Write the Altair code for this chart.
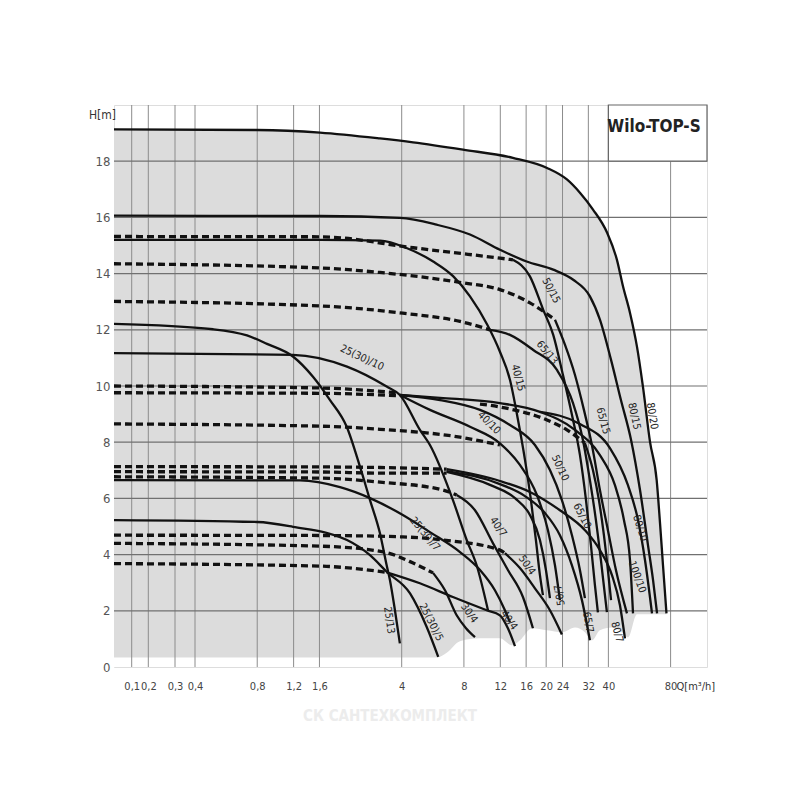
import altair as alt
import pandas as pd

FONT = "DejaVu Sans Condensed, Liberation Sans Narrow, sans-serif"

# ---------------- axes ----------------
X_TICKS = [0.1, 0.2, 0.3, 0.4, 0.8, 1.2, 1.6, 4, 8, 12, 16, 20, 24, 32, 40, 80]
Y_TICKS = [0, 2, 4, 6, 8, 10, 12, 14, 16, 18]
H_GRID = [2, 4, 6, 8, 10, 12, 14, 16, 18]
# piecewise log axis (the printed axis is compressed below 0.4 m3/h)
X_BREAKS = [0.05, 0.1, 0.2, 0.3, 0.4, 120]
X_RANGE = [0, 17.7, 34.3, 61, 81, 593]

# ---------------- solid curves (Q m3/h, H m) ----------------
Q_80_20 = [0.05, 0.8, 1.61, 3.14, 4.54, 7.92, 13.8, 20.2, 25.2, 29.2, 33.7, 39.4, 44.0, 47.1, 50.9, 55.0, 58.8, 63.6, 68.5, 71.1, 73.5, 76.4]
H_80_20 = [19.13, 19.11, 19.02, 18.81, 18.67, 18.41, 18.12, 17.76, 17.35, 16.87, 16.28, 15.46, 14.49, 13.54, 12.60, 11.40, 9.97, 8.01, 6.65, 5.12, 3.62, 1.91]

Q_80_15 = [0.05, 1.61, 3.92, 5.90, 8.56, 11.95, 16.09, 21.64, 27.03, 32.56, 36.40, 41.2, 46.0, 51.5, 56.9, 62.2, 65.8, 68.8]
H_80_15 = [16.06, 16.05, 15.98, 15.74, 15.39, 14.85, 14.43, 14.14, 13.78, 13.19, 12.36, 10.93, 9.50, 8.08, 6.30, 4.33, 3.09, 1.91]

Q_50_15 = [13.81, 16.69, 19.36, 21.64, 24.10, 26.65, 29.13, 31.14, 32.93, 34.43, 35.59]
H_50_15 = [14.49, 13.90, 12.71, 11.82, 10.40, 8.98, 7.55, 5.97, 4.34, 2.91, 1.94]

Q_40_15 = [0.05, 1.61, 3.14, 4.22, 5.68, 7.11, 8.56, 10.38, 11.95, 13.36, 14.61, 15.79, 16.88, 17.84, 18.66, 19.29]
H_40_15 = [15.20, 15.20, 15.17, 14.91, 14.43, 13.90, 13.19, 12.18, 11.22, 10.22, 8.80, 7.38, 5.94, 4.52, 3.27, 2.56]

Q_65_15 = [22.06, 24.65, 27.55, 30.46, 33.29, 36.40, 39.79, 43.51, 49.19]
H_65_15 = [12.36, 11.47, 10.40, 9.15, 7.90, 6.30, 4.87, 3.45, 1.91]

Q_65_13 = [10.69, 13.36, 17.26, 22.55, 26.95, 30.12, 32.56, 34.81, 36.81, 38.49, 39.35]
H_65_13 = [12.0, 11.82, 11.29, 10.57, 9.40, 8.08, 6.65, 5.23, 3.80, 2.56, 1.95]

Q_25_13 = [0.05, 0.489, 0.714, 0.892, 1.191, 1.489, 1.800, 2.168, 2.513, 2.81, 3.14, 3.383, 3.51, 3.71, 3.92]
H_25_13 = [12.21, 12.02, 11.80, 11.50, 11.05, 10.33, 9.50, 8.55, 7.13, 5.94, 4.76, 3.62, 3.09, 2.02, 0.84]

Q_25_10 = [0.05, 1.191, 2.175, 3.383, 3.92, 4.90, 5.48, 7.08, 8.25, 9.22, 10.46]
H_25_10 = [11.17, 11.11, 10.69, 9.98, 9.68, 8.44, 7.90, 5.94, 4.52, 3.62, 2.02]

Q_40_10 = [3.92, 5.48, 8.56, 11.95, 14.93, 18.04, 20.40, 22.06, 23.31]
H_40_10 = [9.68, 9.15, 8.55, 7.96, 7.19, 6.12, 4.87, 3.62, 2.38]

Q_50_10 = [3.92, 6.13, 9.57, 13.36, 17.65, 20.86, 23.83, 26.65, 29.13, 30.80]
H_50_10 = [9.68, 9.50, 9.15, 8.61, 7.90, 7.01, 5.94, 4.69, 3.45, 2.45]

Q_65_10 = [30.80, 33.67, 36.0, 38.06, 39.79, 41.2]
H_65_10 = [7.97, 7.01, 5.94, 4.69, 3.45, 2.38]

Q_80_10 = [3.92, 6.13, 11.95, 18.66, 27.55, 36.40, 43.03, 47.57, 50.9, 52.63]
H_80_10 = [9.68, 9.58, 9.39, 9.08, 8.44, 7.54, 6.47, 5.23, 3.80, 1.91]

Q_100_10 = [18.66, 29.13, 40.7, 49.74, 55.64, 60.16, 65.03]
H_100_10 = [9.08, 8.65, 7.79, 6.47, 5.23, 3.80, 1.91]

Q_80_7 = [6.60, 11.95, 16.69, 23.31, 30.80, 36.40, 41.62, 45.5, 48.11]
H_80_7 = [7.04, 6.62, 6.23, 5.58, 4.87, 4.16, 3.27, 2.20, 1.02]

Q_65_7 = [6.60, 11.95, 15.79, 19.73, 23.31, 26.65, 29.79, 32.56]
H_65_7 = [6.97, 6.51, 6.08, 5.48, 4.69, 3.62, 2.38, 0.95]

Q_50_7 = [6.60, 10.69, 14.13, 16.69, 18.66, 19.95, 20.86]
H_50_7 = [6.94, 6.48, 6.01, 5.41, 4.52, 3.45, 2.45]

Q_40_7 = [7.38, 9.05, 11.05, 13.06, 15.44, 17.26]
H_40_7 = [6.12, 5.58, 4.41, 3.45, 2.49, 1.38]

Q_25_7 = [0.05, 1.288, 2.012, 2.81, 4.05, 5.48, 7.66, 9.57, 11.30, 12.63, 13.36]
H_25_7 = [6.65, 6.64, 6.40, 6.01, 5.41, 4.80, 4.09, 3.45, 2.73, 2.02, 1.59]

Q_25_5 = [0.05, 0.8, 1.191, 2.175, 2.81, 3.383, 4.39, 5.28, 6.01]
H_25_5 = [5.23, 5.16, 4.99, 4.52, 3.98, 3.39, 2.62, 1.43, 0.36]

Q_50_4 = [12.63, 14.93, 17.65, 20.86, 23.83]
H_50_4 = [4.05, 3.52, 2.80, 2.02, 1.16]

Q_30_4 = [5.67, 6.48, 7.38, 8.19, 9.05]
H_30_4 = [3.35, 2.73, 1.84, 1.38, 1.06]

Q_40_4 = [3.383, 4.90, 7.08, 10.31, 11.95, 13.06, 14.13]
H_40_4 = [3.37, 2.98, 2.49, 2.02, 1.84, 1.38, 0.74]

# ---------------- dashed curves ----------------
QD_153 = [0.05, 1.61, 4.54, 7.08, 11.95, 13.81]
HD_153 = [15.32, 15.31, 14.92, 14.75, 14.55, 14.49]
QD_143 = [0.05, 1.61, 3.14, 7.92, 11.95, 16.69, 22.06]
HD_143 = [14.35, 14.20, 14.04, 13.67, 13.43, 12.96, 12.36]
QD_130 = [0.05, 1.61, 4.05, 7.66, 10.69]
HD_130 = [13.01, 12.85, 12.59, 12.30, 12.0]
QD_100 = [0.05, 1.61, 3.92]
HD_100 = [10.0, 9.93, 9.75]
QD_098 = [0.05, 1.61, 3.92]
HD_098 = [9.76, 9.74, 9.65]
QD_6510 = [9.57, 12.63, 20.17, 25.20, 30.80]
HD_6510 = [9.36, 9.22, 8.79, 8.44, 7.97]
QD_087 = [0.05, 1.61, 3.14, 7.66, 11.95]
HD_087 = [8.65, 8.57, 8.46, 8.18, 7.90]
QD_071 = [0.05, 1.61, 3.14, 6.60]
HD_071 = [7.13, 7.12, 7.10, 7.04]
QD_069 = [0.05, 1.61, 3.14, 6.60]
HD_069 = [6.95, 6.94, 6.90, 6.90]
QD_068 = [0.05, 1.61, 3.14, 6.34, 7.38]
HD_068 = [6.77, 6.72, 6.58, 6.30, 6.12]
QD_047 = [0.05, 1.61, 4.05, 6.34, 11.95, 12.63]
HD_047 = [4.69, 4.68, 4.63, 4.52, 4.16, 4.05]
QD_044 = [0.05, 1.61, 3.25, 4.39, 5.67]
HD_044 = [4.40, 4.30, 4.10, 3.75, 3.35]
QD_037 = [0.05, 1.61, 3.383]
HD_037 = [3.68, 3.59, 3.37]

# lower edge of the shaded field
LOW_Q = [0.05, 5.93, 6.63, 7.66, 9.57, 11.95, 13.67, 14.93, 17.08, 20.19, 23.86, 27.57, 30.81, 33.32, 36.40, 41.6, 46.5, 49.8, 55.0, 75.1, 120]
LOW_H = [0.34, 0.34, 0.52, 0.92, 1.02, 1.02, 0.77, 0.95, 1.38, 1.31, 1.24, 1.41, 1.24, 0.95, 1.31, 1.41, 1.24, 1.06, 1.88, 1.88, 1.88]

# curve labels
LABEL_TEXT = ["80/20", "80/15", "65/15", "65/13", "50/15", "40/15", "25(30)/10", "40/10", "50/10", "65/10",
              "80/10", "100/10", "25(30)/7", "40/7", "50/4", "50/7", "65/7", "80/7", "40/4", "30/4", "25(30)/5", "25/13"]
LABEL_Q = [65.0, 53.2, 37.6, 20.17, 21.09, 14.61, 2.57, 10.58, 23.31, 29.79,
           56.9, 55.03, 5.18, 11.69, 16.14, 23.31, 31.84, 44.0, 13.21, 8.47, 5.54, 3.47]
LABEL_H = [8.93, 8.93, 8.76, 11.18, 13.39, 10.29, 11.0, 8.68, 7.08, 5.37,
           4.94, 3.20, 4.73, 4.98, 3.62, 2.56, 1.59, 1.24, 1.66, 1.91, 1.59, 1.66]
LABEL_ANGLE = [80, 78, 75, 50, 62, 75, 25, 45, 65, 62, 72, 70, 50, 55, 55, 260, 80, 75, 55, 55, 63, 82]

SOLID = [
    ("80/20", Q_80_20, H_80_20), ("80/15", Q_80_15, H_80_15), ("50/15", Q_50_15, H_50_15),
    ("40/15", Q_40_15, H_40_15), ("65/15", Q_65_15, H_65_15), ("65/13", Q_65_13, H_65_13),
    ("25/13", Q_25_13, H_25_13), ("25/10", Q_25_10, H_25_10), ("40/10", Q_40_10, H_40_10),
    ("50/10", Q_50_10, H_50_10), ("65/10", Q_65_10, H_65_10), ("80/10", Q_80_10, H_80_10),
    ("100/10", Q_100_10, H_100_10), ("80/7", Q_80_7, H_80_7), ("65/7", Q_65_7, H_65_7),
    ("50/7", Q_50_7, H_50_7), ("40/7", Q_40_7, H_40_7), ("25/7", Q_25_7, H_25_7),
    ("25/5", Q_25_5, H_25_5), ("50/4", Q_50_4, H_50_4), ("30/4", Q_30_4, H_30_4), ("40/4", Q_40_4, H_40_4),
]
DASHED = [
    ("d153", QD_153, HD_153), ("d143", QD_143, HD_143), ("d130", QD_130, HD_130),
    ("d100", QD_100, HD_100), ("d098", QD_098, HD_098), ("d6510", QD_6510, HD_6510),
    ("d087", QD_087, HD_087), ("d071", QD_071, HD_071), ("d069", QD_069, HD_069),
    ("d068", QD_068, HD_068), ("d047", QD_047, HD_047), ("d044", QD_044, HD_044), ("d037", QD_037, HD_037),
]


def frame(curves):
    rows = []
    for name, qs, hs in curves:
        for i, (q, h) in enumerate(zip(qs, hs)):
            rows.append({"curve": name, "Q": q, "H": h, "i": i})
    return pd.DataFrame(rows)


solid_df = frame(SOLID)
dashed_df = frame(DASHED)
env_df = pd.DataFrame({"Q": Q_80_20, "H": H_80_20})
low_df = pd.DataFrame({"Q": LOW_Q, "H": LOW_H})
lab_df = pd.DataFrame({"Q": LABEL_Q, "H": LABEL_H, "t": LABEL_TEXT, "a": LABEL_ANGLE})
box_df = pd.DataFrame({"Q": [40], "Q2": [120], "H": [18], "H2": [20]})
brand_df = pd.DataFrame({"Q": [66.5], "H": [19.2], "t": ["Wilo-TOP-S"]})

xscale = alt.Scale(type="log", domain=X_BREAKS, range=X_RANGE, nice=False)
yscale = alt.Scale(domain=[0, 20], nice=False, zero=False)

x_axis = alt.Axis(values=X_TICKS, labelExpr="replace('' + datum.value, '.', ',')", grid=False, ticks=False,
                  tickSize=0, domain=False, labelPadding=13, labelFont=FONT, labelFontSize=11,
                  labelColor="#444", labelOverlap=False, labelFlush=False,
                  title="Q[m³/h]", titleFont=FONT, titleFontSize=11, titleFontWeight="normal",
                  titleColor="#333", titleAlign="left", titleX=562, titleY=13, titleBaseline="top")
y_axis = alt.Axis(values=Y_TICKS, format="d", grid=False, ticks=False, tickSize=0, domain=False,
                  labelPadding=4, labelFont=FONT, labelFontSize=13, labelColor="#555", labelOverlap=False,
                  title="H[m]", titleAngle=0, titleX=-12, titleY=9, titleAlign="center",
                  titleBaseline="middle", titleFont=FONT, titleFontSize=12, titleFontWeight="normal",
                  titleColor="#333")

X = alt.X("Q:Q", scale=xscale, axis=x_axis)
Y = alt.Y("H:Q", scale=yscale, axis=y_axis)

env = alt.Chart(env_df).mark_area(color="#dcdcdc", interpolate="monotone").encode(x=X, y=Y, y2=alt.datum(0))
low = alt.Chart(low_df).mark_area(color="white", interpolate="monotone").encode(x=X, y=Y, y2=alt.datum(0))
vgrid = alt.Chart(pd.DataFrame({"Q": X_TICKS})).mark_rule(color="#8c8c8c", strokeWidth=1).encode(x=X)
hgrid = alt.Chart(pd.DataFrame({"H": H_GRID})).mark_rule(color="#707070", strokeWidth=1.2).encode(y=Y)
box = alt.Chart(box_df).mark_rect(fill="white", stroke="#666", strokeWidth=1.2).encode(
    x=X, x2=alt.X2("Q2"), y=Y, y2=alt.Y2("H2"))
dashed = alt.Chart(dashed_df).mark_line(color="#111", strokeWidth=3.3, strokeDash=[7, 4],
                                        interpolate="monotone").encode(x=X, y=Y, detail="curve:N")
solid = alt.Chart(solid_df).mark_line(color="#111", strokeWidth=2.3, interpolate="monotone").encode(
    x=X, y=Y, detail="curve:N")
labels = alt.Chart(lab_df).mark_text(font=FONT, fontSize=10.5, color="#222", align="center",
                                     baseline="middle").encode(
    x=X, y=Y, text="t:N", angle=alt.Angle("a:Q", scale=None))
brand = alt.Chart(brand_df).mark_text(font=FONT, fontSize=17, fontWeight="bold", color="#222",
                                      align="center", baseline="middle").encode(x=X, y=Y, text="t:N")
mark_wm = alt.Chart(pd.DataFrame({"t": ["СК САНТЕХКОМПЛЕКТ"]})).mark_text(
    font=FONT, fontSize=15, fontWeight="bold", color="#ececec").encode(
    text="t:N", x=alt.value(276), y=alt.value(611))

chart = alt.layer(env, low, vgrid, hgrid, box, dashed, solid, labels, brand, mark_wm).properties(
    width=593, height=562,
    padding={"left": 106, "top": 97, "right": 85, "bottom": 118},
    autosize=alt.AutoSizeParams(type="none"),
).configure_view(stroke="#555", strokeWidth=2).configure(background="white")

chart.save("out.html", embed_options={"renderer": "svg", "actions": False})
